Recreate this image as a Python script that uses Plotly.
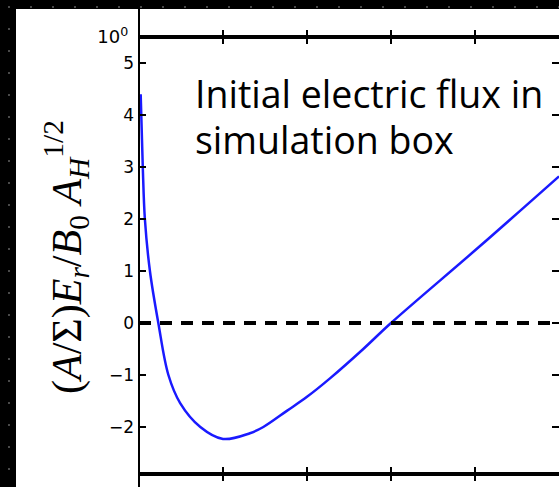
import plotly.graph_objects as go

# Radial electric field profile (normalised) across the simulation box
x_vals = [0.02, 0.045, 0.07, 0.13, 0.23, 0.35, 0.49, 0.73, 1.0, 1.32, 1.48, 1.76, 2.0, 2.27, 2.67, 3.0, 4.06, 5.0]
flux_vals = [4.4, 3.0, 2.0, 1.0, 0.0, -1.0, -1.54, -2.0, -2.23, -2.12, -2.0, -1.69, -1.42, -1.07, -0.50, 0.0, 1.48, 2.82]

x_range = [0, 5]
x_ticks = [1, 2, 3, 4]
y_ticks = [-2, -1, 0, 1, 2, 3, 4, 5]
y_range = [-2.904, 5.5]

W, H = 559, 487
ML, MT = 139, 9
PW, PH = W - ML, H - MT


def px_x(p):
    return (p - ML) / PW


def px_y(p):
    return (H - p) / PH


fig = go.Figure()

# main curve
fig.add_trace(go.Scatter(
    x=x_vals, y=flux_vals, mode="lines",
    line=dict(color="#1a1aff", width=2.5, shape="spline", smoothing=1.0),
    xaxis="x", yaxis="y", showlegend=False, hoverinfo="skip",
))
# zero reference
fig.add_trace(go.Scatter(
    x=x_range, y=[0, 0], mode="lines",
    line=dict(color="black", width=4, dash="12px,9px"),
    xaxis="x", yaxis="y", showlegend=False, hoverinfo="skip",
))
# neighbouring panels (only their edges are visible)
fig.add_trace(go.Scatter(x=[], y=[], xaxis="x2", yaxis="y2", showlegend=False))
fig.add_trace(go.Scatter(x=[], y=[], xaxis="x3", yaxis="y3", showlegend=False))

y_main_dom = [px_y(474), px_y(37)]
tickfont = dict(family="DejaVu Sans", size=17, color="black")

common_x = dict(range=x_range, tickvals=x_ticks, showticklabels=False, ticks="inside",
                ticklen=7, tickwidth=2, tickcolor="black", showgrid=False, zeroline=False,
                showline=True, linecolor="black", linewidth=2)

fig.update_layout(
    width=W, height=H,
    margin=dict(l=ML, r=0, t=MT, b=0, pad=0, autoexpand=False),
    paper_bgcolor="black",
    plot_bgcolor="white",
    xaxis=dict(**common_x, anchor="y", mirror="ticks"),
    yaxis=dict(domain=y_main_dom, range=y_range, tickvals=y_ticks, ticks="inside", ticklen=7,
               tickwidth=2, tickcolor="black", mirror="ticks", showline=False, showgrid=False,
               zeroline=False, tickfont=tickfont, ticklabelstandoff=4, anchor="x"),
    xaxis2=dict(**common_x, anchor="y2", matches="x"),
    yaxis2=dict(domain=[y_main_dom[1], 1], type="log", range=[0, 1], tickvals=[1],
                ticktext=["10<sup>0</sup> "], ticks="", showline=False, showgrid=False,
                zeroline=False, tickfont=dict(family="DejaVu Sans", size=18, color="black"),
                ticklabelstandoff=4, anchor="x2"),
    xaxis3=dict(**common_x, anchor="y3", side="top", matches="x"),
    yaxis3=dict(domain=[0, y_main_dom[0]], range=[0, 1], showticklabels=False, ticks="",
                showline=False, showgrid=False, zeroline=False, anchor="x3"),
)

shapes = [
    # white figure panel
    dict(type="rect", xref="paper", yref="paper", x0=px_x(16), x1=1.0, y0=0, y1=1,
         fillcolor="white", line=dict(width=0), layer="below"),
    # left spine running through all panels
    dict(type="line", xref="paper", yref="paper", x0=0, x1=0, y0=0, y1=1,
         line=dict(color="black", width=2)),
]
# faint dot grid on the dark border
dot_col = "#4a4a4a"
for i in range(26):
    cx = 9 + 22 * i
    if cx > W:
        break
    shapes.append(dict(type="rect", xref="paper", yref="paper",
                       x0=px_x(cx - 1), x1=px_x(cx + 1), y0=px_y(7 + 1), y1=px_y(7 - 1),
                       fillcolor=dot_col, line=dict(width=0)))
for j in range(1, 23):
    cy = 7 + 22 * j
    if cy > H:
        break
    shapes.append(dict(type="rect", xref="paper", yref="paper",
                       x0=px_x(9 - 1), x1=px_x(9 + 1), y0=px_y(cy + 1), y1=px_y(cy - 1),
                       fillcolor=dot_col, line=dict(width=0)))
fig.update_layout(shapes=shapes)

text_font = dict(family="Open Sans", size=37.5, color="black")
annotations = [
    dict(text="Initial electric flux in", xref="paper", yref="paper",
         x=px_x(193), y=px_y(93), xanchor="left", yanchor="middle",
         showarrow=False, font=text_font),
    dict(text="simulation box", xref="paper", yref="paper",
         x=px_x(193), y=px_y(139), xanchor="left", yanchor="middle",
         showarrow=False, font=text_font),
    dict(text="(<i>A</i>/Σ)<i>E<sub>r</sub></i>/<i>B</i><sub>0</sub> <i>A<sub>H</sub></i><sup>1/2</sup>",
         xref="paper", yref="paper", x=px_x(66), y=px_y(257), xanchor="center", yanchor="middle",
         textangle=-90, showarrow=False,
         font=dict(family="Liberation Serif", size=42, color="black")),
]
fig.update_layout(annotations=annotations)

fig.write_html("out.html")
